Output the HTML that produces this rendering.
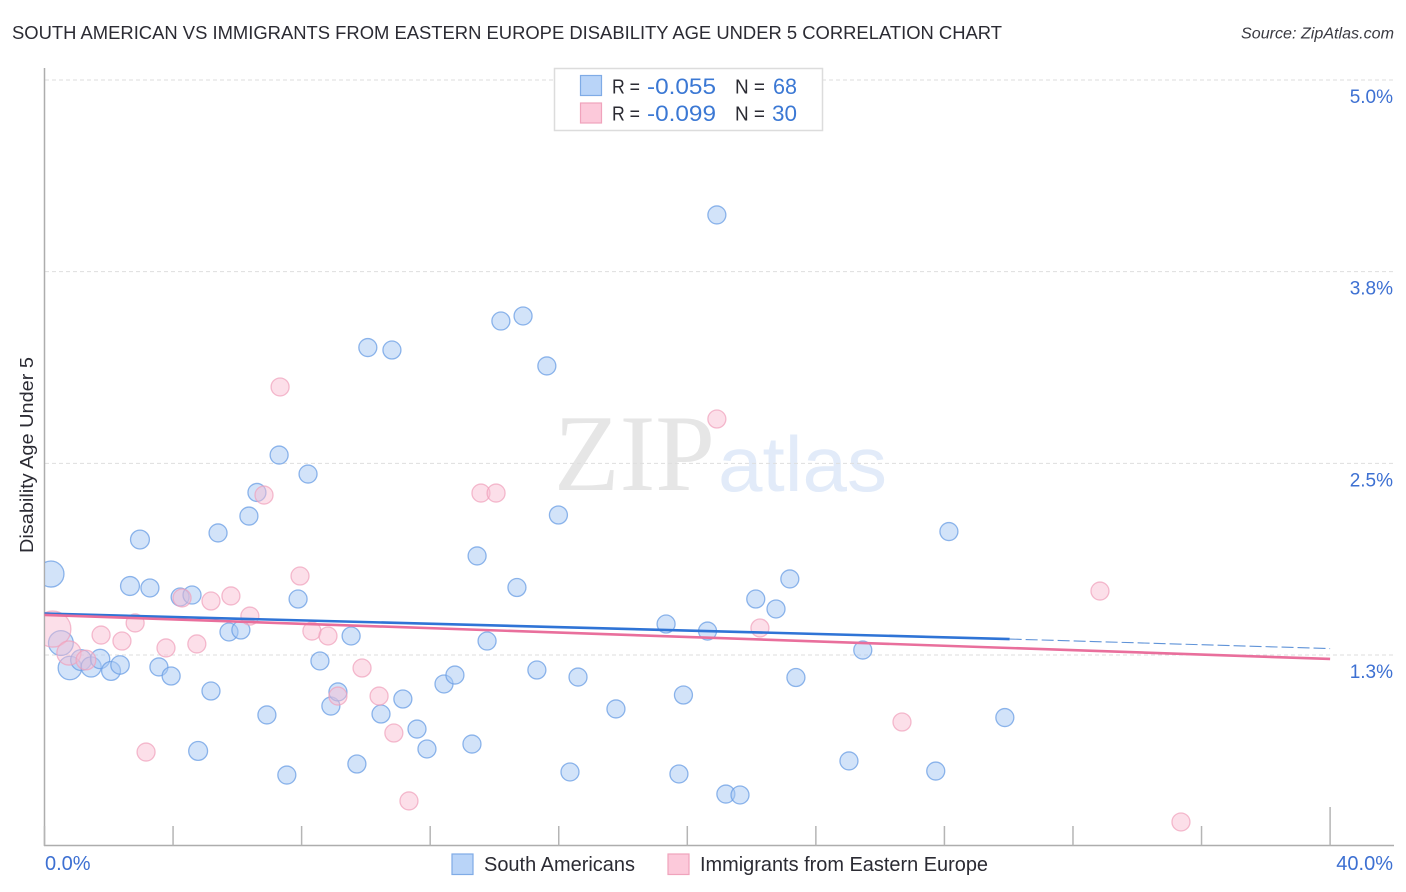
<!DOCTYPE html>
<html>
<head>
<meta charset="utf-8">
<title>South American vs Immigrants from Eastern Europe Disability Age Under 5</title>
<style>
html,body{margin:0;padding:0;background:#fff;}
svg{display:block;font-family:"Liberation Sans",sans-serif;}
</style>
</head>
<body>
<svg id="chart" width="1406" height="892" viewBox="0 0 1406 892" xmlns="http://www.w3.org/2000/svg">
  <defs><clipPath id="plot-clip"><rect x="45" y="60" width="1349" height="785"/></clipPath></defs>
  <text x="12" y="39" font-size="18.5" fill="#2b2b33" textLength="990" lengthAdjust="spacingAndGlyphs">SOUTH AMERICAN VS IMMIGRANTS FROM EASTERN EUROPE DISABILITY AGE UNDER 5 CORRELATION CHART</text>
  <text x="1241" y="38.5" font-size="15.5" font-style="italic" fill="#3a3a42" textLength="153" lengthAdjust="spacingAndGlyphs">Source: ZipAtlas.com</text>

  <g>
    <text x="554" y="490" font-family="'Liberation Serif',serif" font-size="109" fill="#e6e6e6" textLength="161" lengthAdjust="spacingAndGlyphs">ZIP</text>
    <text x="718" y="491" font-size="78" fill="#e2ebf9" textLength="169" lengthAdjust="spacingAndGlyphs">atlas</text>
  </g>

  <g id="grid"></g>
  <g id="axes"></g>
  <g id="blue-points" clip-path="url(#plot-clip)"></g>
  <g id="pink-points" clip-path="url(#plot-clip)"></g>
  <g id="trends"></g>
  <g id="labels"></g>

  <text transform="translate(33,455) rotate(-90)" font-size="18.5" fill="#2b2b33" text-anchor="middle" textLength="196" lengthAdjust="spacingAndGlyphs">Disability Age Under 5</text>

  <g>
    <rect x="554.5" y="68.5" width="268" height="62" fill="#fff" stroke="#dcdcdc" stroke-width="1.5"/>
    <rect x="580.5" y="75.5" width="21" height="20" fill="#b9d4f8" stroke="#7fabe6" stroke-width="1.2"/>
    <rect x="580.5" y="103" width="21" height="20" fill="#fcc9da" stroke="#f0a3bc" stroke-width="1.2"/>
    <text x="612" y="93.5" font-size="20" fill="#2b2b33" textLength="28" lengthAdjust="spacingAndGlyphs">R =</text>
    <text x="647" y="94" font-size="22" fill="#3b78d4" textLength="69" lengthAdjust="spacingAndGlyphs">-0.055</text>
    <text x="735" y="93.5" font-size="20" fill="#2b2b33" textLength="30" lengthAdjust="spacingAndGlyphs">N =</text>
    <text x="773" y="94" font-size="22" fill="#3b78d4" textLength="24" lengthAdjust="spacingAndGlyphs">68</text>
    <text x="612" y="120.5" font-size="20" fill="#2b2b33" textLength="28" lengthAdjust="spacingAndGlyphs">R =</text>
    <text x="647" y="121" font-size="22" fill="#3b78d4" textLength="69" lengthAdjust="spacingAndGlyphs">-0.099</text>
    <text x="735" y="120.5" font-size="20" fill="#2b2b33" textLength="30" lengthAdjust="spacingAndGlyphs">N =</text>
    <text x="772" y="121" font-size="22" fill="#3b78d4" textLength="25" lengthAdjust="spacingAndGlyphs">30</text>
  </g>

  <g>
    <rect x="452" y="854" width="21" height="20.5" fill="#b9d4f8" stroke="#7fabe6" stroke-width="1.2"/>
    <text x="484" y="871" font-size="20" fill="#2b2b33" textLength="151" lengthAdjust="spacingAndGlyphs">South Americans</text>
    <rect x="668" y="854" width="21" height="20.5" fill="#fcc9da" stroke="#f0a3bc" stroke-width="1.2"/>
    <text x="700" y="871" font-size="20" fill="#2b2b33" textLength="288" lengthAdjust="spacingAndGlyphs">Immigrants from Eastern Europe</text>
  </g>
</svg>
<script>
// South Americans: x = share of population (%), y = disability age under 5 (%), w = relative sample weight
const blueX = [0.20,0.51,0.79,1.14,1.45,1.73,2.07,2.35,2.66,3.28,2.97,3.56,3.94,4.22,4.59,5.18,4.78,5.40,5.74,6.11,6.36,6.61,6.92,7.30,7.54,7.89,8.20,8.57,8.91,9.13,9.54,9.72,10.06,10.47,10.81,11.15,11.59,11.90,12.43,12.77,13.30,13.46,13.77,14.20,14.70,14.89,15.32,15.63,15.99,16.35,16.60,17.78,19.34,19.74,19.88,20.63,20.92,21.20,21.64,22.13,22.76,23.19,23.38,25.03,25.46,27.73,28.14,29.88];
const blueY = [1.778,1.328,1.165,1.217,1.172,1.224,1.146,1.185,1.700,1.687,2.003,1.172,1.113,1.628,1.641,1.015,0.624,2.046,1.400,1.413,2.156,2.310,0.859,2.554,0.467,1.615,2.430,1.211,0.917,1.009,1.374,0.539,3.255,0.865,3.239,0.963,0.767,0.637,1.061,1.119,0.669,1.896,1.341,3.428,1.690,3.461,1.152,3.135,2.163,0.487,1.106,0.898,1.452,0.474,0.989,1.406,4.120,0.343,0.337,1.615,1.550,1.746,1.103,0.559,1.282,0.493,2.055,0.842];
const blueW = [2.1,1.9,1.7,1.35,1.25,1.15,1.1,1.05,1.1,1,1.1,1,1,1,1,1,1.1,1,1,1,1,1,1,1,1,1,1,1,1,1,1,1,1,1,1,1,1,1,1,1,1,1,1,1,1,1,1,1,1,1,1,1,1,1,1,1,1,1,1,1,1,1,1,1,1,1,1,1];

// Immigrants from Eastern Europe
const pinkX = [0.26,0.76,1.29,1.76,2.41,2.82,3.78,3.16,4.74,4.28,5.18,5.80,6.39,6.83,7.33,7.95,8.32,8.82,9.13,9.88,10.41,10.87,11.34,13.58,14.05,20.92,22.26,26.68,32.84,35.36];
const pinkY = [1.419,1.263,1.217,1.380,1.341,1.459,1.296,0.617,1.322,1.622,1.602,1.635,1.504,2.293,2.998,1.765,1.406,1.374,0.982,1.165,0.982,0.741,0.298,2.306,2.306,2.789,1.426,0.813,1.667,0.161];
const pinkW = [4,1.8,1.2,1,1,1,1,1,1,1,1,1,1,1,1,1,1,1,1,1,1,1,1,1,1,1,1,1,1,1];

// Regression lines
const blueTrendX = [0, 30.03, 40];
const blueTrendY = [1.520, 1.354, 1.292];
const pinkTrendX = [0, 40];
const pinkTrendY = [1.511, 1.224];

// Ticks
const yTicks = [5.0, 3.75, 2.5, 1.25];
const yTickLabels = ["5.0%", "3.8%", "2.5%", "1.3%"];
const xTicks = [0, 4, 8, 12, 16, 20, 24, 28, 32, 36, 40];
const xEndTicks = [0, 40];
const xEndLabels = ["0.0%", "40.0%"];

const NS = "http://www.w3.org/2000/svg";
function xScale(v){ return 44.5 + v * 32.14; }
function yScale(v){ return 80 + (5 - v) * 153.33; }
function rScale(w){ return 9 * Math.sqrt(w); }
function make(tag, parentId, attrs){
  const el = document.createElementNS(NS, tag);
  for (const k in attrs) el.setAttribute(k, attrs[k]);
  document.getElementById(parentId).appendChild(el);
  return el;
}

yTicks.forEach(function(v){
  const el = make("line", "grid", {x1:45, x2:1394, y1:yScale(v), y2:yScale(v), stroke:"#dedede", "stroke-width":1, "stroke-dasharray":"4 3"});
  
  
});

const leftAxis = make("line", "axes", {x1:44.5, x2:44.5, y1:68, y2:846, stroke:"#adadad", "stroke-width":1.5});


const bottomAxis = make("line", "axes", {x1:44, x2:1394, y1:845.5, y2:845.5, stroke:"#adadad", "stroke-width":1.5});


xTicks.forEach(function(v, i){
  const top = i === xTicks.length - 1 ? 807 : 826;
  const el = make("line", "axes", {x1:xScale(v), x2:xScale(v), y1:top, y2:845.5, stroke:"#b5b5b5", "stroke-width":1.5});
  
  
});

blueX.forEach(function(v, i){
  const el = make("circle", "blue-points", {cx:xScale(v), cy:yScale(blueY[i]), r:rScale(blueW[i]), fill:"#a6c8f4", "fill-opacity":0.5, stroke:"#6a9de4", "stroke-opacity":0.75, "stroke-width":1.3});
  
  
});
pinkX.forEach(function(v, i){
  const el = make("circle", "pink-points", {cx:xScale(v), cy:yScale(pinkY[i]), r:rScale(pinkW[i]), fill:"#f9bcd0", "fill-opacity":0.48, stroke:"#f0a0ba", "stroke-opacity":0.7, "stroke-width":1.3});
  
  
});

const blueSolid = make("line", "trends", {x1:xScale(blueTrendX[0]), y1:yScale(blueTrendY[0]), x2:xScale(blueTrendX[1]), y2:yScale(blueTrendY[1]), stroke:"#2f74d6", "stroke-width":2.6});


const blueDash = make("line", "trends", {x1:xScale(blueTrendX[1]), y1:yScale(blueTrendY[1]), x2:xScale(blueTrendX[2]), y2:yScale(blueTrendY[2]), stroke:"#5f93d8", "stroke-width":1.1, "stroke-dasharray":"12 4"});


const pinkLine = make("line", "trends", {x1:xScale(pinkTrendX[0]), y1:yScale(pinkTrendY[0]), x2:xScale(pinkTrendX[1]), y2:yScale(pinkTrendY[1]), stroke:"#e96f9c", "stroke-width":2.6});



yTicks.forEach(function(v, i){
  const el = make("text", "labels", {x:1393, y:yScale(v) + 23, "font-size":19, fill:"#3d70d2", "text-anchor":"end"});
  
  
  el.textContent = yTickLabels[i];
});
xEndTicks.forEach(function(v, i){
  const isLast = i === xEndTicks.length - 1;
  const el = make("text", "labels", {x:isLast ? 1393 : 45, y:870, "font-size":20, fill:"#3d70d2", "text-anchor":isLast ? "end" : "start"});
  
  
  el.textContent = xEndLabels[i];
});
</script>
</body>
</html>
